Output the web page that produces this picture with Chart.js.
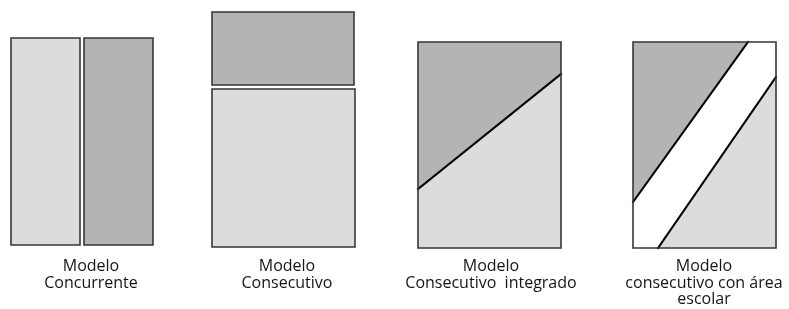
<!DOCTYPE html>
<html>
<head>
<meta charset="utf-8">
<script src="https://cdn.jsdelivr.net/npm/chart.js@4"></script>
<style>
    body { margin: 0; background: #fff; }
    #contenedor { width: 789px; height: 309px; }
</style>
</head>
<body>
<div id="contenedor"><canvas id="modelosChart"></canvas></div>
<script>
// Nombres de cada modelo (una línea por elemento)
const modelos = [
    ['Modelo', 'Concurrente'],
    ['Modelo', 'Consecutivo'],
    ['Modelo', 'Consecutivo  integrado'],
    ['Modelo', 'consecutivo con área', 'escolar']
];
// Centro horizontal de cada etiqueta
const centrosEtiqueta = [91, 287, 491, 704];

// Rectángulos [x1, y1, x2, y2] en unidades del diagrama
const rectClaros = [[11, 38, 80, 245], [212, 89, 355, 247], [418, 42, 561, 248]];
const rectOscuros = [[84, 38, 153, 245], [212, 12, 354, 85]];
const rectBlancos = [[633, 42, 776, 248]];

// Líneas diagonales [[x, y], [x, y]] y hasta dónde rellenan
const lineaIntegrado = [[418, 189], [561, 74]];        // zona oscura encima
const lineaEscolarSup = [[633, 202], [748, 42]];       // zona oscura encima
const lineaEscolarInf = [[658, 248], [776, 77]];       // zona clara debajo

const claro = '#dcdcdc';
const oscuro = '#b4b4b4';
const borde = '#363636';

function puntos(lista) {
    return lista.map(p => ({ x: p[0], y: p[1] }));
}

// Relleno de un rectángulo: línea superior rellenada hasta el borde inferior
function relleno(r, color) {
    return {
        data: puntos([[r[0], r[1]], [r[2], r[1]]]),
        fill: { value: r[3] },
        backgroundColor: color,
        borderWidth: 0,
        borderColor: 'rgba(0,0,0,0)',
        order: 3
    };
}

// Contorno del rectángulo
function contorno(r) {
    return {
        data: puntos([[r[0], r[1]], [r[2], r[1]], [r[2], r[3]], [r[0], r[3]], [r[0], r[1]]]),
        fill: false,
        borderColor: borde,
        borderWidth: 1.6,
        order: 0
    };
}

// Diagonal con relleno hasta un valor de y
function diagonal(linea, hasta, color) {
    return {
        data: puntos(linea),
        fill: { value: hasta },
        backgroundColor: color,
        borderColor: '#000',
        borderWidth: 2,
        order: 1
    };
}

function createModelosChart() {
    const todos = rectClaros.concat(rectOscuros, rectBlancos);
    const datasets = []
        .concat(rectClaros.map(r => relleno(r, claro)))
        .concat(rectOscuros.map(r => relleno(r, oscuro)))
        .concat(rectBlancos.map(r => relleno(r, '#ffffff')))
        .concat([
            diagonal(lineaIntegrado, 42, oscuro),
            diagonal(lineaEscolarSup, 42, oscuro),
            diagonal(lineaEscolarInf, 248, claro)
        ])
        .concat(todos.map(r => contorno(r)));

    const ctx = document.getElementById('modelosChart').getContext('2d');
    new Chart(ctx, {
        type: 'line',
        data: { datasets: datasets },
        options: {
            responsive: true,
            maintainAspectRatio: false,
            animation: false,
            layout: { padding: 0 },
            elements: {
                point: { radius: 0, hoverRadius: 0 },
                line: { tension: 0, borderCapStyle: 'square', borderJoinStyle: 'miter' }
            },
            scales: {
                x: {
                    type: 'linear',
                    min: 0,
                    max: 789,
                    grid: { display: false, drawTicks: false },
                    border: { display: false },
                    afterBuildTicks: function(scale) {
                        scale.ticks = centrosEtiqueta.map(v => ({ value: v }));
                    },
                    ticks: {
                        autoSkip: false,
                        maxRotation: 0,
                        minRotation: 0,
                        padding: 1,
                        color: '#151515',
                        font: { family: 'Open Sans', size: 16, lineHeight: '16.5px' },
                        callback: function(value, index) {
                            return modelos[index];
                        }
                    }
                },
                y: {
                    display: false,
                    min: 0,
                    max: 257.5,
                    reverse: true
                }
            },
            plugins: {
                legend: { display: false },
                tooltip: { enabled: false }
            }
        }
    });
}

createModelosChart();
</script>
</body>
</html>
